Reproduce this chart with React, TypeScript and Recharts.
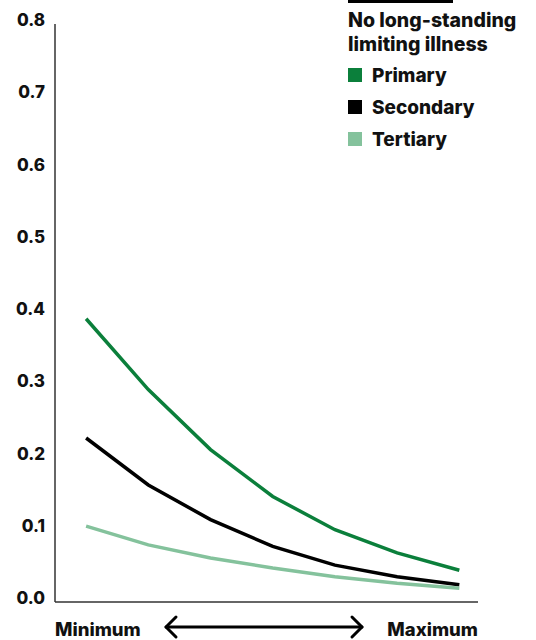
import { LineChart, Line, XAxis, YAxis } from "recharts";

const steps = [1, 2, 3, 4, 5, 6, 7];
const primary = [0.392, 0.294, 0.211, 0.146, 0.1, 0.068, 0.044];
const secondary = [0.227, 0.162, 0.114, 0.077, 0.051, 0.035, 0.024];
const tertiary = [0.105, 0.079, 0.061, 0.047, 0.035, 0.026, 0.019];
const yTicks = [0, 0.1, 0.2, 0.3, 0.4, 0.5, 0.6, 0.7, 0.8];
const legendTitle = ["No long-standing", "limiting illness"];
const series = [
  { key: "primary", name: "Primary", color: "#0b7f3b" },
  { key: "secondary", name: "Secondary", color: "#000000" },
  { key: "tertiary", name: "Tertiary", color: "#84c29c" },
];

const data = steps.map((s, i) => ({
  step: s,
  primary: primary[i],
  secondary: secondary[i],
  tertiary: tertiary[i],
}));

const FONT = "Inter, 'Liberation Sans', sans-serif";

function YTick({ x, y, payload }: any) {
  return (
    <text x={x} y={y - 4} dy="0.36em" textAnchor="end" fontFamily={FONT} fontWeight={800} fontSize={17} fill="#111">
      {payload.value.toFixed(1)}
    </text>
  );
}

function XTick({ x, y, index }: any) {
  const label = index === 0 ? "Minimum" : "Maximum";
  return (
    <text x={x} y={y + 32} textAnchor={index === 0 ? "start" : "end"} fontFamily={FONT} fontWeight={800} fontSize={18.5} fill="#111">
      {label}
    </text>
  );
}

function LegendBox() {
  return (
    <div style={{ position: "absolute", left: 348, top: 0, width: 188, fontFamily: FONT, fontWeight: 800, color: "#111" }}>
      <div style={{ width: 105, height: 3, background: "#000", marginBottom: 5 }} />
      {legendTitle.map((t) => (
        <div key={t} style={{ fontSize: 19.5, lineHeight: "24px" }}>{t}</div>
      ))}
      <div style={{ marginTop: 3 }}>
        {series.map((s) => (
          <div key={s.key} style={{ display: "flex", alignItems: "center", height: 32, fontSize: 19 }}>
            <span style={{ width: 14, height: 14, background: s.color, marginRight: 10, display: "inline-block" }} />
            {s.name}
          </div>
        ))}
      </div>
    </div>
  );
}

export default function App() {
  return (
    <div style={{ position: "absolute", left: 0, top: 0, width: 536, height: 640, background: "#fff" }}>
      <LineChart width={536} height={640} data={data} margin={{ top: 24, right: 58, bottom: 0, left: 0 }}>
        <XAxis
          type="number"
          dataKey="step"
          domain={[0.5, 7.3]}
          ticks={[0.5, 7.3]}
          tick={<XTick />}
          tickLine={false}
          tickSize={0}
          height={38}
          axisLine={{ stroke: "#333", strokeWidth: 1.5 }}
        />
        <YAxis
          domain={[0, 0.8]}
          ticks={yTicks}
          tick={<YTick />}
          tickLine={false}
          tickSize={0}
          tickMargin={10}
          width={55}
          axisLine={{ stroke: "#333", strokeWidth: 1.5 }}
        />
        {series.map((s) => (
          <Line
            key={s.key}
            dataKey={s.key}
            name={s.name}
            stroke={s.color}
            strokeWidth={3.5}
            dot={false}
            type="linear"
            isAnimationActive={false}
          />
        ))}
      </LineChart>
      <LegendBox />
      <svg width={536} height={640} style={{ position: "absolute", left: 0, top: 0, pointerEvents: "none" }}>
        <g stroke="#000" strokeWidth={3} fill="none" strokeLinecap="round" strokeLinejoin="round">
          <line x1={166} y1={627} x2={362} y2={627} />
          <polyline points="176,617 166,627 176,637" />
          <polyline points="352,617 362,627 352,637" />
        </g>
      </svg>
    </div>
  );
}
